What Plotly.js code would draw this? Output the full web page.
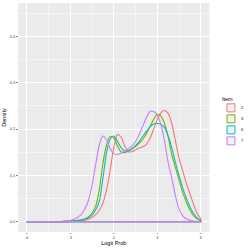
<!DOCTYPE html>
<html>
<head>
<meta charset="utf-8">
<script src="https://cdn.plot.ly/plotly-3.0.1.min.js"></script>
<style>
  html, body { margin: 0; padding: 0; background: #fff; overflow: hidden; }
  #wrap { width: 249px; height: 249px; overflow: hidden; }
  #chart { width: 498px; height: 498px; transform: scale(0.5); transform-origin: 0 0; }
</style>
</head>
<body>
<div id="wrap"><div id="chart"></div></div>
<script>
// Logit probability grid
const logitProb = [-6,-5.75,-5.5,-5.25,-5,-4.75,-4.5,-4.25,-4,-3.75,-3.5,-3.25,-3,-2.75,-2.5,-2.25,-2,-1.75,-1.5,-1.25,-1,-0.75,-0.5,-0.25,0,0.25,0.5,0.75,1,1.25,1.5,1.75,2,2.25,2.5,2.75,3,3.25,3.5,3.75,4,4.25,4.5,4.75,5,5.25,5.5,5.75,6];

// Item names
const items = ["2", "3", "6", "7"];

// Density values per item
const density2 = [0,0,0,0,0,0,0,0,0,0,0,0,0,0.001,0.001,0.002,0.003,0.005,0.009,0.015,0.024,0.04,0.068,0.11,0.16,0.188,0.183,0.164,0.151,0.151,0.155,0.159,0.162,0.167,0.18,0.2,0.22,0.235,0.24,0.234,0.212,0.175,0.137,0.11,0.083,0.06,0.037,0.018,0.006];
const density3 = [0,0,0,0,0,0,0,0,0,0,0,0.001,0.001,0.002,0.003,0.004,0.006,0.01,0.018,0.033,0.068,0.125,0.165,0.184,0.181,0.164,0.151,0.149,0.152,0.157,0.162,0.169,0.178,0.19,0.205,0.221,0.232,0.228,0.212,0.183,0.145,0.117,0.09,0.063,0.042,0.025,0.013,0.006,0.002];
const density6 = [0,0,0,0,0,0,0,0,0,0,0,0,0.001,0.001,0.002,0.003,0.005,0.008,0.014,0.025,0.043,0.093,0.148,0.178,0.185,0.174,0.16,0.153,0.153,0.157,0.164,0.173,0.184,0.195,0.205,0.211,0.212,0.21,0.203,0.185,0.16,0.128,0.1,0.073,0.051,0.032,0.018,0.008,0.003];
const density7 = [0,0,0,0,0,0,0,0,0,0,0.001,0.002,0.003,0.005,0.009,0.015,0.027,0.045,0.078,0.122,0.165,0.185,0.177,0.158,0.147,0.145,0.148,0.152,0.157,0.163,0.173,0.188,0.206,0.225,0.238,0.238,0.23,0.21,0.174,0.128,0.094,0.056,0.027,0.013,0.006,0.003,0.001,0,0];

const xTicks = [-6, -3, 0, 3, 6];
const xTickText = ["-6", "-3", "0", "3", "6"];
const xMinor = [-4.5, -1.5, 1.5, 4.5];
const yTicks = [0, 0.1, 0.2, 0.3, 0.4];
const yTickText = ["0.0", "0.1", "0.2", "0.3", "0.4"];
const yMinor = [0.05, 0.15, 0.25, 0.35, 0.45];

const colors = ["#F8766D", "#7CAE00", "#00BFC4", "#C77CFF"];
const allDensity = [density2, density3, density6, density7];

const traces = [];
const n = logitProb.length;
allDensity.forEach((d, i) => {
  // density curve
  traces.push({
    type: "scatter", mode: "lines",
    x: logitProb, y: d,
    line: { color: colors[i], width: 2.2, shape: "spline", smoothing: 0.8 },
    showlegend: false, hoverinfo: "skip"
  });
  // closing edge of the density outline (right end down to zero, then baseline back to start)
  traces.push({
    type: "scatter", mode: "lines",
    x: [logitProb[n - 1], logitProb[n - 1], logitProb[0]],
    y: [d[n - 1], 0, 0],
    line: { color: colors[i], width: 2.2, shape: "linear" },
    showlegend: false, hoverinfo: "skip"
  });
});
items.forEach((name, i) => {
  traces.push({
    type: "scatter", mode: "markers", x: [null], y: [null], name: name,
    legendgroup: "g" + name,
    marker: { symbol: "square", size: 16, color: "#F2F2F2", line: { color: colors[i], width: 2 } },
    showlegend: true
  });
});

const font = "Liberation Sans, Arial, sans-serif";
const layout = {
  width: 498, height: 498,
  margin: { l: 36, r: 56, t: 6, b: 34 },
  paper_bgcolor: "#FFFFFF",
  plot_bgcolor: "#EBEBEB",
  font: { family: font, color: "#4D4D4D" },
  xaxis: {
    range: [-6.6, 6.6], tickvals: xTicks, ticktext: xTickText,
    ticks: "outside", ticklen: 3, tickwidth: 1.2, tickcolor: "#333333",
    tickfont: { size: 8, color: "#4D4D4D", family: font },
    showgrid: true, gridcolor: "#FFFFFF", gridwidth: 2,
    minor: { tickvals: xMinor, showgrid: true, gridcolor: "#FFFFFF", gridwidth: 1, ticks: "" },
    zeroline: false, showline: false,
    title: { text: "Logit Prob", font: { size: 11, color: "#000000", family: font }, standoff: 4 }
  },
  yaxis: {
    range: [-0.0225, 0.4725], tickvals: yTicks, ticktext: yTickText,
    ticks: "outside", ticklen: 3, tickwidth: 1.2, tickcolor: "#333333",
    tickfont: { size: 8, color: "#4D4D4D", family: font },
    showgrid: true, gridcolor: "#FFFFFF", gridwidth: 2,
    minor: { tickvals: yMinor, showgrid: true, gridcolor: "#FFFFFF", gridwidth: 1, ticks: "" },
    zeroline: false, showline: false,
    title: { text: "Density", font: { size: 11, color: "#000000", family: font }, standoff: 4 }
  },
  legend: {
    title: { text: "Item", font: { size: 11, color: "#000000", family: font } },
    font: { size: 8, color: "#000000", family: font },
    x: 1.06, xanchor: "left", y: 0.605, yanchor: "top",
    bgcolor: "rgba(0,0,0,0)", itemwidth: 30, tracegroupgap: 3
  },
  showlegend: true
};

Plotly.newPlot("chart", traces, layout, { displayModeBar: false, staticPlot: true });
</script>
</body>
</html>
